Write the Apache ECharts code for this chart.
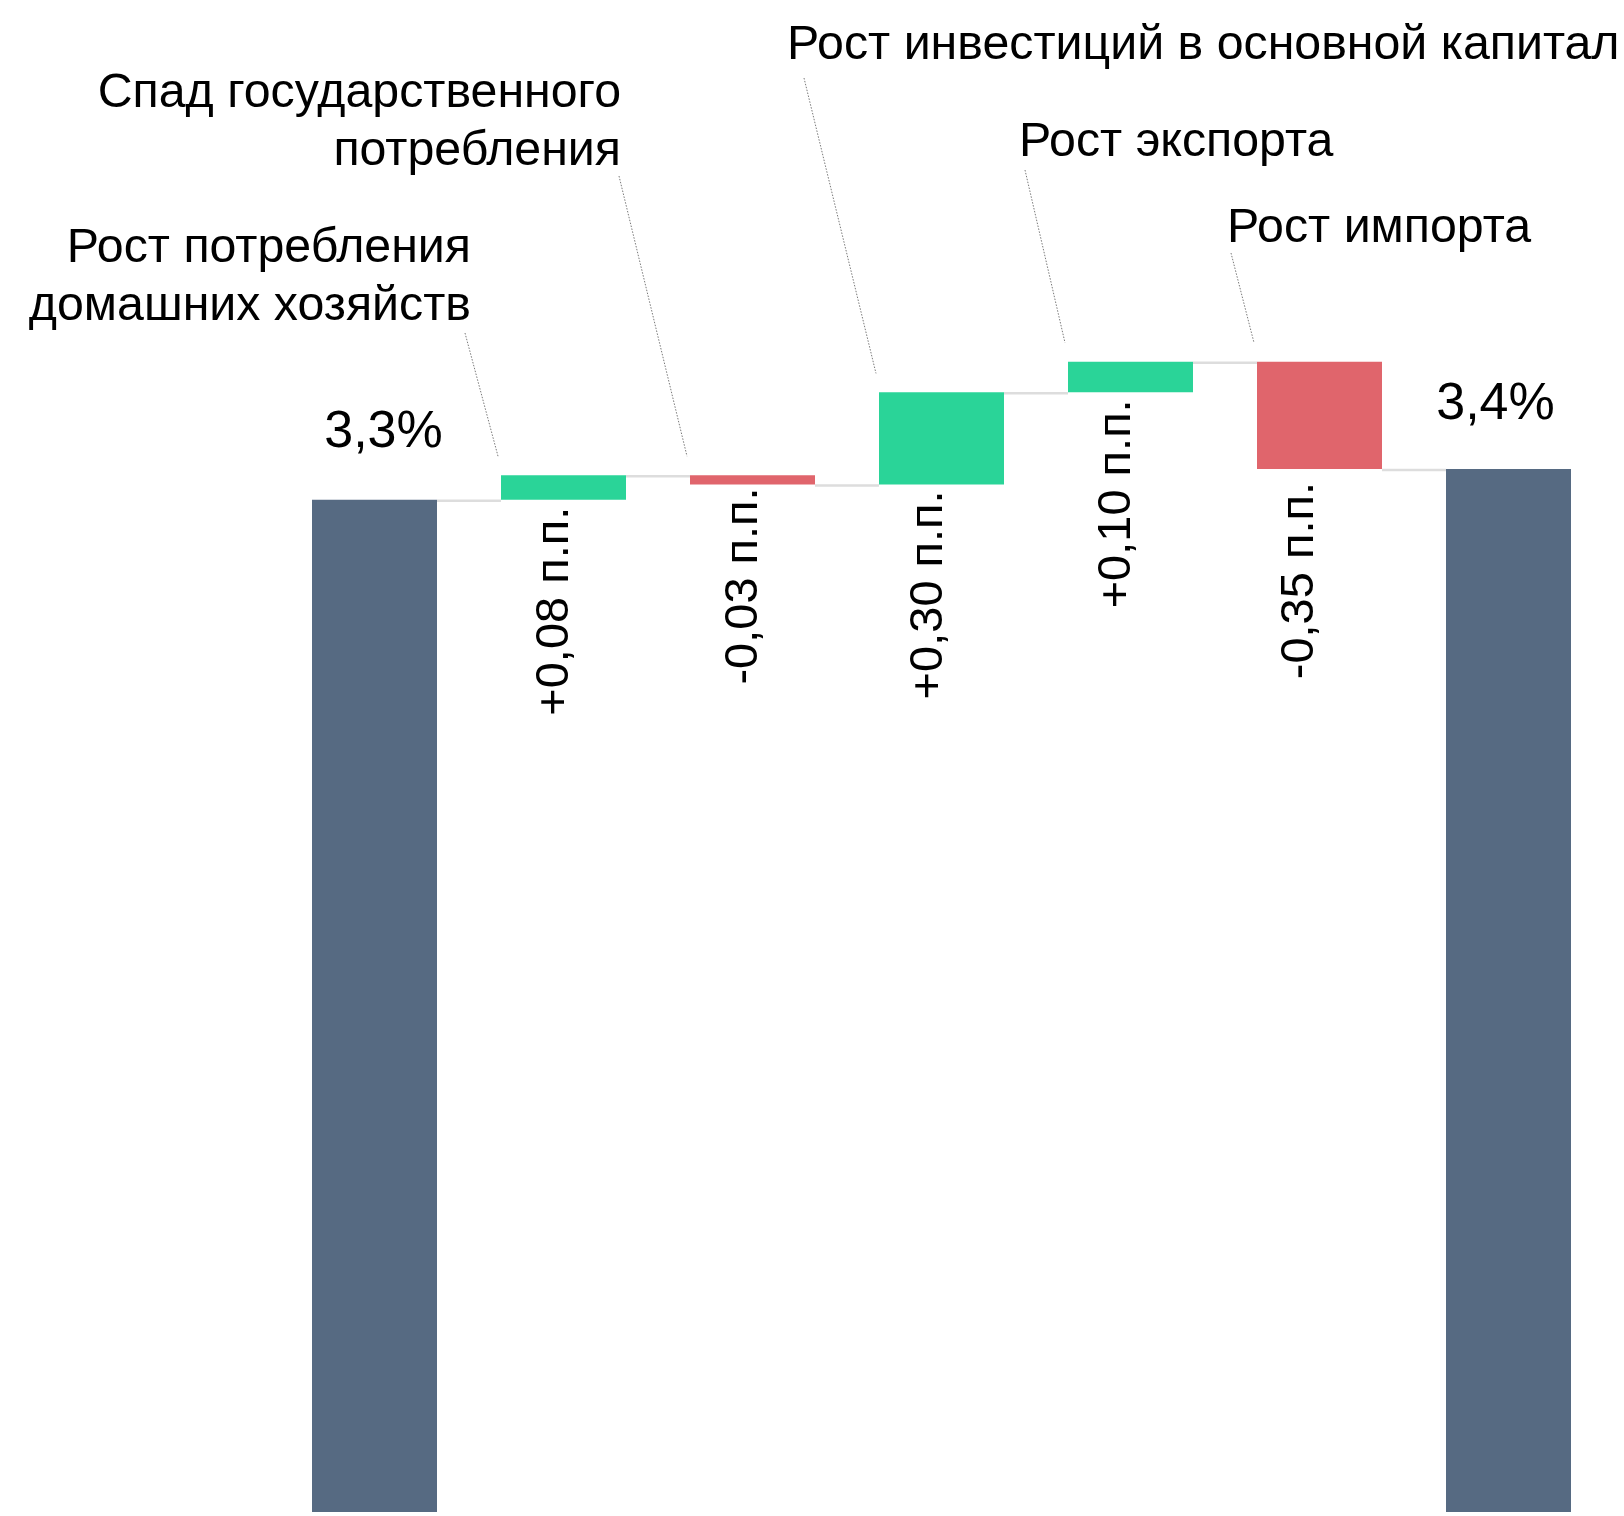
<!DOCTYPE html>
<html>
<head>
<meta charset="utf-8">
<script src="https://cdn.jsdelivr.net/npm/echarts@6/dist/echarts.min.js"></script>
<style>
  html, body { margin: 0; padding: 0; background: #fff; }
  #chart { width: 1624px; height: 1516px; }
</style>
</head>
<body>
<div id="chart"></div>
<script>
const totalNames = ['Рост ВВП, начало', 'Рост ВВП, итог']
const factorNames = [
  'Рост потребления\nдомашних хозяйств',
  'Спад государственного\nпотребления',
  'Рост инвестиций в основной капитал',
  'Рост экспорта',
  'Рост импорта',
]
const startValue = 3.3
const endValue = 3.4
const deltas = [0.08, -0.03, 0.30, 0.10, -0.35]
const deltaLabels = ['+0,08 п.п.', '-0,03 п.п.', '+0,30 п.п.', '+0,10 п.п.', '-0,35 п.п.']
const totalLabels = ['3,3%', '3,4%']

const categories = [totalNames[0], ...factorNames, totalNames[1]]

const BAR_W = 125
const FONT = '"Liberation Sans", Arial, sans-serif'
const colors = { total: '#566a82', up: '#2ad498', down: '#e0656c', connector: '#dddddd', leader: '#7a7a7a' }

// where the factor captions sit (pixels) and where their dotted leader starts
const callouts = [
  { x: 471, y: 278, align: 'right', lineHeight: 58, from: [465, 333] },
  { x: 621, y: 123, align: 'right', lineHeight: 58, from: [619, 176] },
  { x: 787, y: 46, align: 'left', lineHeight: 58, from: [804, 78] },
  { x: 1019, y: 143, align: 'left', lineHeight: 58, from: [1025, 170] },
  { x: 1227, y: 229, align: 'left', lineHeight: 58, from: [1231, 253] },
]
// nudges for the rotated delta labels (offset is applied in the rotated frame)
const deltaLabelOffsets = [[-1, -8], [3, -8], [0, -12], [-1, -13], [-7, -19]]
const totalLabelOffsets = [[9, 0], [-13, 3]]

// waterfall stacks built from the deltas
const placeholder = [0]
const totals = [{ value: startValue, label: { offset: totalLabelOffsets[0] } }]
const ups = ['-']
const downs = ['-']
const levels = [startValue]
const tops = []
let level = startValue
deltas.forEach((d, i) => {
  const next = level + d
  const item = { value: Math.abs(d), label: { offset: deltaLabelOffsets[i] } }
  placeholder.push(Math.min(level, next))
  totals.push('-')
  ups.push(d > 0 ? item : '-')
  downs.push(d < 0 ? item : '-')
  tops.push(Math.max(level, next))
  level = next
  levels.push(level)
})
placeholder.push(0)
totals.push({ value: endValue, label: { offset: totalLabelOffsets[1] } })
ups.push('-')
downs.push('-')

const connectorData = levels.map((v, i) => [i, v])
const calloutData = tops.map((v, i) => [i + 1, v])

const deltaLabel = {
  show: true,
  position: 'bottom',
  distance: 6,
  rotate: 90,
  align: 'right',
  verticalAlign: 'middle',
  fontSize: 47,
  fontFamily: FONT,
  color: '#000',
  formatter: (p) => deltaLabels[p.dataIndex - 1],
}

const chart = echarts.init(document.getElementById('chart'), null, { renderer: 'canvas' })
chart.setOption({
  animation: false,
  backgroundColor: '#fff',
  grid: { left: 280, right: 21, top: 285, bottom: 4 },
  xAxis: { type: 'category', data: categories, show: false },
  yAxis: { type: 'value', min: 0, max: 4, show: false },
  series: [
    {
      type: 'bar',
      stack: 'wf',
      barWidth: BAR_W,
      data: placeholder,
      itemStyle: { color: 'transparent' },
      emphasis: { disabled: true },
      silent: true,
    },
    {
      type: 'bar',
      stack: 'wf',
      barWidth: BAR_W,
      data: totals,
      itemStyle: { color: colors.total },
      label: {
        show: true,
        position: 'top',
        distance: 41,
        fontSize: 52,
        lineHeight: 52,
        fontFamily: FONT,
        color: '#000',
        formatter: (p) => totalLabels[p.dataIndex === 0 ? 0 : 1],
      },
    },
    {
      type: 'bar',
      stack: 'wf',
      barWidth: BAR_W,
      data: ups,
      itemStyle: { color: colors.up },
      label: deltaLabel,
    },
    {
      type: 'bar',
      stack: 'wf',
      barWidth: BAR_W,
      data: downs,
      itemStyle: { color: colors.down },
      label: deltaLabel,
    },
    {
      type: 'custom',
      data: connectorData,
      silent: true,
      renderItem: (params, api) => {
        const i = api.value(0)
        const v = api.value(1)
        const a = api.coord([i, v])
        const b = api.coord([i + 1, v])
        return {
          type: 'line',
          shape: { x1: a[0] + BAR_W / 2, y1: a[1] + 1, x2: b[0] - BAR_W / 2, y2: b[1] + 1 },
          style: { stroke: colors.connector, lineWidth: 2.5 },
        }
      },
    },
    {
      type: 'custom',
      data: calloutData,
      silent: true,
      renderItem: (params, api) => {
        const k = params.dataIndex
        const c = callouts[k]
        const top = api.coord([api.value(0), api.value(1)])
        const endX = top[0] - BAR_W / 2 - 3
        const endY = top[1] - 19
        return {
          type: 'group',
          children: [
            {
              type: 'line',
              shape: { x1: c.from[0], y1: c.from[1], x2: endX, y2: endY },
              style: { stroke: colors.leader, lineWidth: 1, lineDash: [1.5, 1.5] },
            },
            {
              type: 'text',
              style: {
                text: factorNames[k],
                x: c.x,
                y: c.y,
                align: c.align,
                verticalAlign: 'middle',
                font: '48.3px ' + FONT,
                lineHeight: c.lineHeight,
                fill: '#000',
              },
            },
          ],
        }
      },
    },
  ],
})
</script>
</body>
</html>
